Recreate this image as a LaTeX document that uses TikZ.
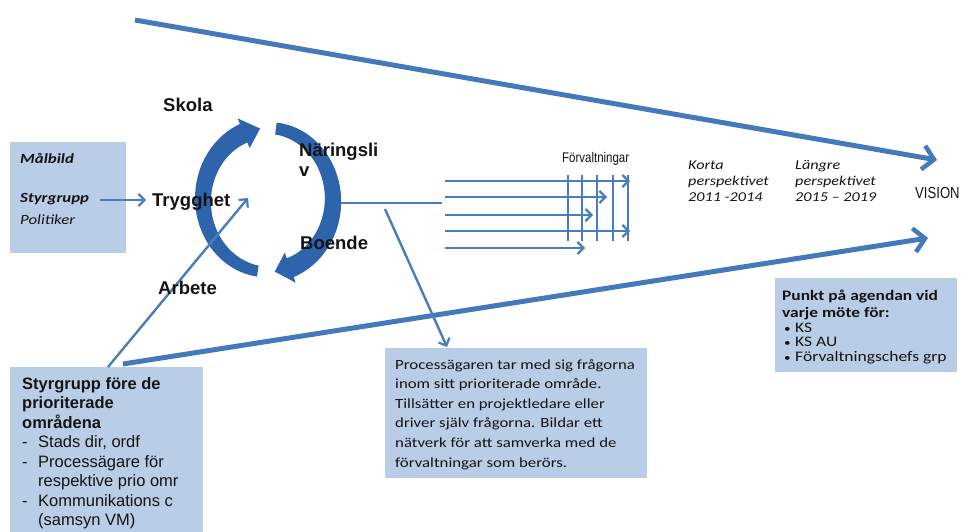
\documentclass[tikz,border=0pt]{standalone}
\usepackage{fontspec}
\setmainfont{Liberation Sans}
\newfontfamily\calw[FakeStretch=1.2]{Carlito}
\newfontfamily\narrow[FakeStretch=0.82]{Liberation Sans}
\usetikzlibrary{arrows.meta}
\definecolor{ln}{HTML}{4A7EBB}
\definecolor{thk}{HTML}{4679BB}
\definecolor{arcc}{HTML}{2E64AB}
\definecolor{boxfill}{HTML}{B9CDE6}
\definecolor{txtc}{HTML}{141414}
\begin{document}
\begin{tikzpicture}[x=1pt,y=-1pt,
  thinarr/.style={draw=ln, line width=2.4pt, -{Straight Barb[length=6pt,width=12pt,line width=2.2pt]}},
  thinline/.style={draw=ln, line width=2.4pt},
  thickarr/.style={draw=thk, line width=5pt, -{Straight Barb[length=11pt,width=24pt,line width=4.5pt]}},
  bluebox/.style={fill=boxfill, draw=none, anchor=north west, inner sep=0pt},
  txt/.style={anchor=base west, inner sep=0pt, text=txtc},
  big/.style={txt, font=\bfseries\fontsize{18.5}{20}\selectfont},
]
\useasboundingbox (0,0) rectangle (967,532);

% boxes
\node[bluebox, minimum width=116pt, minimum height=111pt] (mbox) at (10,142) {};
\node[bluebox, minimum width=193pt, minimum height=165pt] (sbox) at (10,367) {};
\node[bluebox, minimum width=262pt, minimum height=130pt] (pbox) at (385,348) {};
\node[bluebox, minimum width=182pt, minimum height=94pt] (kbox) at (775,278) {};

% circular arrows
\def\cx{268}\def\cy{200}\def\rx{65}\def\ry{72}
\fill[arcc] plot[domain=99:248,samples=50] ({\cx+(\rx+5.5+4.5*(\x-99)/149)*cos(\x)},{\cy+(\ry+5.5+4.5*(\x-99)/149)*sin(\x)})
  -- ({\cx+(\rx+16)*cos(248)},{\cy+(\ry+16)*sin(248)})
  -- ({\cx+\rx*cos(263)},{\cy+\ry*sin(263)})
  -- ({\cx+(\rx-16)*cos(248)},{\cy+(\ry-16)*sin(248)})
  -- plot[domain=248:99,samples=50] ({\cx+(\rx-5.5-4.5*(\x-99)/149)*cos(\x)},{\cy+(\ry-5.5-4.5*(\x-99)/149)*sin(\x)})
  -- cycle;
\fill[arcc] plot[domain=277:430,samples=50] ({\cx+(\rx+6+4*(\x-277)/153)*cos(\x)},{\cy+(\ry+6+4*(\x-277)/153)*sin(\x)})
  -- ({\cx+(\rx+16)*cos(430)},{\cy+(\ry+16)*sin(430)})
  -- ({\cx+\rx*cos(444)},{\cy+\ry*sin(444)})
  -- ({\cx+(\rx-16)*cos(430)},{\cy+(\ry-16)*sin(430)})
  -- plot[domain=430:277,samples=50] ({\cx+(\rx-6-4*(\x-277)/153)*cos(\x)},{\cy+(\ry-6-4*(\x-277)/153)*sin(\x)})
  -- cycle;

% coordinates
\coordinate (tA) at (135,20);   \coordinate (tB) at (937,160);
\coordinate (bA) at (123,364);  \coordinate (bB) at (928,238);
\coordinate (sA) at (108,367);  \coordinate (sB) at (248,198);
\coordinate (mA) at (100,200);  \coordinate (mB) at (146,200);
\coordinate (cA) at (341,203);  \coordinate (cB) at (442,203);
\coordinate (dA) at (385,209);  \coordinate (dB) at (447,347);

% long arrows
\draw[thickarr] (tA) -- (tB);
\draw[thickarr] (bA) -- (bB);

% thin arrows
\draw[thinarr] (sA) -- (sB);
\draw[thinarr] (mA) -- (mB);
\draw[thinline] (cA) -- (cB);
\draw[thinarr] (dA) -- (dB);

% fan of arrows
\foreach \yy/\xe [count=\i] in {181/630,197/607,215/593,231/630,248/585}{
  \coordinate (h\i a) at (445,\yy);
  \coordinate (h\i b) at (\xe,\yy);
  \draw[thinarr] (h\i a) -- (h\i b);
}
\foreach \xx [count=\i] in {568,582,597,613,628}{
  \coordinate (v\i a) at (\xx,175);
  \coordinate (v\i b) at (\xx,241);
  \draw[thinline, line width=2.2pt] (v\i a) -- (v\i b);
}

% circle labels
\node[big] (skola) at (163,112) {Skola};
\node[big] (trygg) at (152,207) {Trygghet};
\node[big] (nar) at (299,157) {\parbox[t]{90pt}{\fontsize{18.5}{20}\selectfont\bfseries Näringsli\\v}};
\node[big] (boende) at (300,249) {Boende};
\node[big] (arbete) at (158,294) {Arbete};

% Målbild box text
\node[txt, font=\calw\bfseries\itshape\fontsize{14}{16}\selectfont] (malbild) at (20,164) {Målbild};
\node[txt, font=\calw\bfseries\itshape\fontsize{14}{16}\selectfont] (styr) at (20,203) {Styrgrupp};
\node[txt, font=\calw\itshape\fontsize{14}{16}\selectfont] (pol) at (20,225) {Politiker};

% Förvaltningar, perspectives, vision
\node[txt, font=\narrow\fontsize{14}{16}\selectfont] (forv) at (562,163) {Förvaltningar};
\node[txt] (korta) at (688,170) {\parbox[t]{100pt}{\calw\itshape\fontsize{13.5}{16}\selectfont Korta\\perspektivet\\2011 -2014}};
\node[txt] (langre) at (795,170) {\parbox[t]{100pt}{\calw\itshape\fontsize{13.5}{16}\selectfont Längre\\perspektivet\\2015 – 2019}};
\node[txt, font=\narrow\fontsize{16}{18}\selectfont] (vision) at (915,198) {VISION};

% Styrgrupp box text
\node[txt] (stext) at (22,389) {\parbox[t]{180pt}{\fontsize{16.5}{19.5}\selectfont
  \textbf{Styrgrupp före de}\\
  \textbf{prioriterade}\\
  \textbf{områdena}\\
  \makebox[16pt][l]{-}Stads dir, ordf\\
  \makebox[16pt][l]{-}Processägare för\\
  \hspace*{16pt}respektive prio omr\\
  \makebox[16pt][l]{-}Kommunikations c\\
  \hspace*{16pt}(samsyn VM)}};

% Process box text
\node[txt] (ptext) at (395,369) {\parbox[t]{250pt}{\calw\fontsize{14}{19.6}\selectfont
  Processägaren tar med sig frågorna\\
  inom sitt prioriterade område.\\
  Tillsätter en projektledare eller\\
  driver själv frågorna. Bildar ett\\
  nätverk för att samverka med de\\
  förvaltningar som berörs.}};

% Punkt box text
\node[txt] (ktext) at (782,300) {\parbox[t]{180pt}{\calw\fontsize{14.5}{17}\selectfont\bfseries
  Punkt på agendan vid\\
  varje möte för:}};
\node[txt] (kitems) at (784,332) {\parbox[t]{180pt}{\calw\fontsize{14.6}{14.5}\selectfont
  \makebox[11pt][l]{\fontsize{11}{11}\selectfont •}KS\\
  \makebox[11pt][l]{\fontsize{11}{11}\selectfont •}KS AU\\
  \makebox[11pt][l]{\fontsize{11}{11}\selectfont •}Förvaltningschefs grp}};
\end{tikzpicture}
\end{document}
